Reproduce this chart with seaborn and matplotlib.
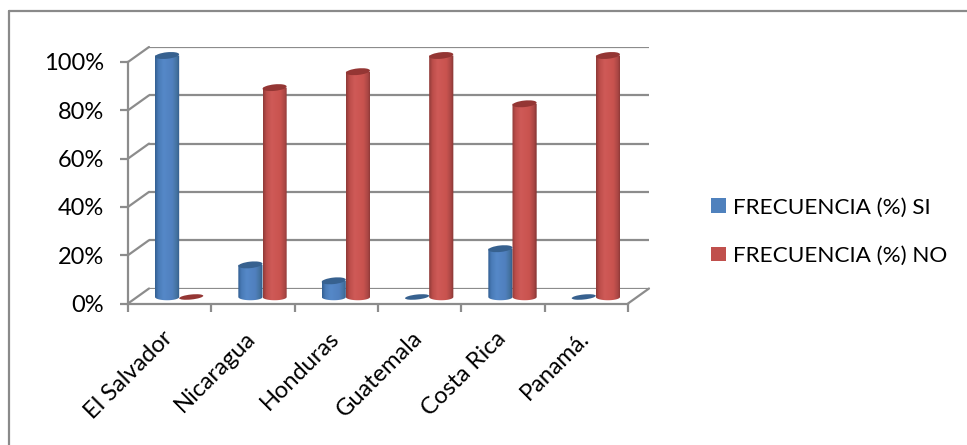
import numpy as np
import pandas as pd
import matplotlib
matplotlib.use("Agg")
import matplotlib.pyplot as plt
import seaborn as sns
from matplotlib.patches import Ellipse, PathPatch, Rectangle
from matplotlib.path import Path
from matplotlib.colors import LinearSegmentedColormap
from matplotlib.transforms import IdentityTransform

countries = ["El Salvador", "Nicaragua", "Honduras", "Guatemala", "Costa Rica", "Panamá."]
pct_si = [100, 13.3, 6.7, 0, 20, 0]
pct_no = [0, 86.7, 93.3, 100, 80, 100]
series_names = ["FRECUENCIA (%) SI", "FRECUENCIA (%) NO"]
y_ticks = [0, 20, 40, 60, 80, 100]

W, H = 967, 445
GREY = "#8c8c8c"
BLUE, RED = "#4f81bd", "#c0504d"

sns.set_theme(style="white")
plt.rcParams["font.family"] = ["Lato", "DejaVu Sans"]

fig = plt.figure(figsize=(W / 100, H / 100), dpi=100, facecolor="white")


def px_axes(left, right, top, bottom, **kw):
    return fig.add_axes([left / W, 1 - bottom / H, (right - left) / W, (bottom - top) / H], **kw)


# Chart frame: only its top and left edges fall inside the image
frame_x, frame_y = 8.5 / W, 1 - 10.5 / H
fig.add_artist(plt.Line2D([frame_x, 1], [frame_y, frame_y], transform=fig.transFigure, color="#8a8a8a", linewidth=1.6))
fig.add_artist(plt.Line2D([frame_x, frame_x], [0, frame_y], transform=fig.transFigure, color="#8a8a8a", linewidth=1.6))

# Three layers with the same scales: back wall, cylinders, front axis
FRONT = (128, 628, 62, 303.5)
wall = px_axes(FRONT[0] + 21, FRONT[1] + 21, FRONT[2] - 15, FRONT[3] - 15)
front = px_axes(*FRONT)
bars = px_axes(FRONT[0] + 9.5, FRONT[1] + 9.5, FRONT[2] - 6.5, FRONT[3] - 6.5)
for a in (wall, front, bars):
    a.set_xlim(-0.5, 5.5)
    a.set_ylim(0, 100)
    a.patch.set_alpha(0)

# Gridlines on the back wall, joined to the front ticks by the floor and side edges
wall.set_xticks([])
wall.set_yticks(y_ticks)
wall.tick_params(left=False, labelleft=False)
wall.grid(axis="y", color=GREY, linewidth=1.6)
for s in wall.spines.values():
    s.set_visible(False)
for v in y_ticks:
    p0 = front.transData.transform((-0.5, v))
    p1 = wall.transData.transform((-0.5, v))
    fig.add_artist(plt.Line2D([p0[0], p1[0]], [p0[1], p1[1]], transform=None, color=GREY, linewidth=1.6))
p0 = front.transData.transform((5.5, 0))
p1 = wall.transData.transform((5.5, 0))
fig.add_artist(plt.Line2D([p0[0], p1[0]], [p0[1], p1[1]], transform=None, color=GREY, linewidth=1.6))

# Front axis with labels
front.set_yticks(y_ticks)
front.set_yticklabels([f"{v}%" for v in y_ticks], fontsize=17, color="black")
front.set_xticks(np.arange(-0.5, 6.5, 1))
front.set_xticklabels([])
front.tick_params(axis="both", color=GREY, width=1.6, length=5.5, direction="out", bottom=True, left=True)
front.tick_params(axis="y", pad=12)
for side in ("top", "right"):
    front.spines[side].set_visible(False)
for side in ("left", "bottom"):
    front.spines[side].set_color(GREY)
    front.spines[side].set_linewidth(1.6)
for i, name in enumerate(countries):
    front.annotate(name, xy=(i, 0), xycoords="data", xytext=(-8, -24), textcoords="offset pixels",
                   rotation=45, rotation_mode="anchor", ha="right", va="top", fontsize=17, color="black")

# Cylinders: seaborn lays out the dodged bars, each one is then shaded and capped
df = pd.DataFrame({
    "pais": countries * 2,
    "serie": [series_names[0]] * 6 + [series_names[1]] * 6,
    "valor": pct_si + pct_no,
})
sns.barplot(data=df, x="pais", y="valor", hue="serie", hue_order=series_names, order=countries,
            palette=[BLUE, RED], width=0.58, dodge=True, gap=0, legend=False, ax=bars, saturation=1)
bars.set_xlim(-0.5, 5.5)
bars.set_ylim(0, 100)
bars.axis("off")
bars.patch.set_alpha(0)

# Horizontal shading across a cylinder: dark rims, broad lit middle
stops = [0.0, 0.14, 0.35, 0.7, 0.88, 1.0]
shades = {
    BLUE: (["#335f92", "#4a7cb8", "#5588c8", "#5080be", "#44729f", "#2f5b8c"], "#37618f"),
    RED: (["#8f3a38", "#bd4e4b", "#cf5a57", "#c9534f", "#ab4745", "#843432"], "#943634"),
}
CAP_PX = 6.5  # cap height on screen
TILT = 6  # cap tilt in degrees
cap_h = CAP_PX * 100 / 241.5

patches = list(bars.patches)
for k, rect in enumerate(patches):
    color = BLUE if k < 6 else RED
    ramp, cap_color = shades[color]
    x0, w, h = rect.get_x(), rect.get_width(), rect.get_height()
    xc, top = x0 + w / 2, h
    rect.set_visible(False)
    if h > 0:
        t = np.linspace(np.pi, 2 * np.pi, 40)
        arc = np.column_stack([xc + w / 2 * np.cos(t), cap_h / 2 * np.sin(t)])
        outline = np.vstack([[x0, top], arc, [x0 + w, top], [x0, top]])
        clip = PathPatch(Path(outline), transform=bars.transData, facecolor="none", edgecolor="none")
        bars.add_patch(clip)
        cmap = LinearSegmentedColormap.from_list("cyl", list(zip(stops, ramp)))
        im = bars.imshow(np.linspace(0, 1, 64)[None, :], extent=(x0, x0 + w, -cap_h, top), cmap=cmap,
                         aspect="auto", zorder=2, interpolation="bilinear")
        # The rounded base hangs below the zero line, so widen the clip to the whole figure
        im.set_clip_box(fig.bbox)
        im.set_clip_path(clip)
    # Caps are sized in pixels so the tilt is not distorted by the axis scales
    centre = bars.transData.transform((xc, top))
    w_px = bars.transData.transform((x0 + w, top))[0] - bars.transData.transform((x0, top))[0]
    bars.add_patch(Ellipse(centre, w_px, CAP_PX if h > 0 else 5, angle=TILT, transform=IdentityTransform(),
                           facecolor=cap_color, edgecolor="none", zorder=3, clip_on=False))
bars.set_xlim(-0.5, 5.5)
bars.set_ylim(0, 100)

# Legend
for name, col, yc in zip(series_names, (BLUE, RED), (206, 254)):
    fig.add_artist(Rectangle((711 / W, 1 - (yc + 7) / H), 14.5 / W, 14.5 / H, transform=fig.transFigure,
                             facecolor=col, edgecolor="none"))
    fig.text(733 / W, 1 - yc / H, name, fontsize=16.2, color="black", va="center_baseline", ha="left")

fig.savefig("out.png", dpi=100)
